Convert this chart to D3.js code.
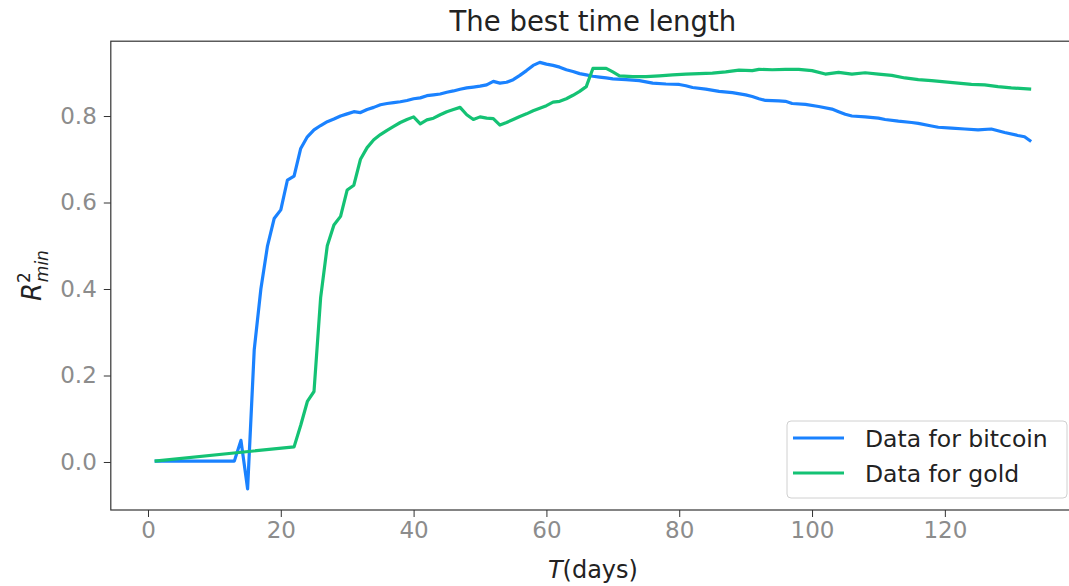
<!DOCTYPE html>
<html>
<head>
<meta charset="utf-8">
<script src="https://cdn.jsdelivr.net/npm/d3@7"></script>
<style>
  body { margin: 0; background: #fff; }
  svg { display: block; font-family: "DejaVu Sans", sans-serif; }
</style>
</head>
<body>
<svg id="chart"></svg>
<script>
// values
const btcDays = [1, 13, 14, 15, 16, 17, 18, 19, 20, 21, 22, 23, 24, 25, 26, 27, 28, 29, 30,
  31, 32, 33, 34, 35, 36, 37, 38, 39, 40, 41, 42, 43, 44, 45, 46, 47, 48, 49, 50,
  51, 52, 53, 54, 55, 56, 57, 58, 59, 60, 61, 62, 63, 64, 65, 66, 67, 68, 69, 70,
  72, 74, 75, 76, 78, 80, 81, 82, 84, 86, 88, 90, 91, 92, 93, 95, 96, 97, 99, 101,
  103, 104, 105, 106, 108, 110, 111, 113, 115, 116, 118, 119, 121, 123, 125, 127,
  129, 131, 132, 133];
const btcR2 = [0.002, 0.002, 0.05, -0.062, 0.26, 0.40, 0.50, 0.563, 0.583, 0.652, 0.661,
  0.725, 0.752, 0.768, 0.778, 0.787, 0.793, 0.80, 0.805, 0.81, 0.808, 0.815, 0.82,
  0.826, 0.829, 0.831, 0.833, 0.836, 0.84, 0.842, 0.847, 0.849, 0.851, 0.855, 0.858,
  0.862, 0.865, 0.867, 0.869, 0.872, 0.88, 0.876, 0.878, 0.884, 0.894, 0.905, 0.917,
  0.924, 0.92, 0.917, 0.913, 0.907, 0.903, 0.898, 0.895, 0.892, 0.89, 0.888, 0.886,
  0.884, 0.882, 0.879, 0.876, 0.874, 0.873, 0.87, 0.866, 0.862, 0.857, 0.854, 0.849,
  0.845, 0.84, 0.836, 0.835, 0.834, 0.829, 0.827, 0.822, 0.816, 0.81, 0.804, 0.80,
  0.798, 0.795, 0.792, 0.788, 0.785, 0.783, 0.777, 0.774, 0.772, 0.77, 0.768, 0.77,
  0.762, 0.755, 0.752, 0.741];

const goldDays = [1, 22, 23, 24, 25, 26, 27, 28, 29, 30, 31, 32, 33, 34, 35, 36, 37, 38,
  39, 40, 41, 42, 43, 44, 45, 46, 47, 48, 49, 50, 51, 52, 53, 54, 55, 56, 57, 58, 59,
  60, 61, 62, 63, 64, 65, 66, 67, 68, 69, 70, 71, 73, 75, 77, 79, 81, 83, 85, 87, 89,
  91, 92, 94, 96, 98, 100, 102, 104, 106, 108, 110, 112, 114, 116, 118, 120, 122, 124,
  126, 128, 130, 133];
const goldR2 = [0.002, 0.035, 0.085, 0.14, 0.163, 0.38, 0.50, 0.548, 0.568, 0.629, 0.64,
  0.70, 0.727, 0.745, 0.757, 0.767, 0.776, 0.785, 0.792, 0.798, 0.782, 0.791, 0.795,
  0.803, 0.81, 0.815, 0.82, 0.803, 0.792, 0.798, 0.795, 0.794, 0.779, 0.785, 0.792,
  0.799, 0.805, 0.812, 0.818, 0.824, 0.832, 0.834, 0.84, 0.848, 0.857, 0.868, 0.91,
  0.91, 0.91, 0.902, 0.893, 0.891, 0.891, 0.893, 0.895, 0.897, 0.898, 0.899, 0.902,
  0.906, 0.905, 0.908, 0.907, 0.908, 0.908, 0.905, 0.897, 0.901, 0.897, 0.90, 0.897,
  0.894, 0.888, 0.884, 0.882, 0.879, 0.876, 0.873, 0.872, 0.868, 0.865, 0.862];

const xTicks = [0, 20, 40, 60, 80, 100, 120];
const yTicks = [0.0, 0.2, 0.4, 0.6, 0.8];
const seriesNames = ["Data for bitcoin", "Data for gold"];
const seriesColors = ["#1a82ff", "#14c274"];

const width = 1069, height = 586;
const mLeft = 110.8, mRight = 1075, mTop = 41.2, mBottom = 510;

const svg = d3.select("#chart")
  .attr("width", width)
  .attr("height", height);

const x = d3.scaleLinear().domain([-5.6, 139.6]).range([mLeft, mRight]);
const y = d3.scaleLinear().domain([-0.111, 0.973]).range([mBottom, mTop]);

// x axis
const xAxis = svg.append("g")
  .attr("transform", `translate(0,${mBottom})`)
  .call(d3.axisBottom(x).tickValues(xTicks).tickFormat(d3.format("d")).tickSize(7).tickPadding(5));
xAxis.select(".domain").remove();
xAxis.selectAll(".tick line").attr("stroke", "#333").attr("stroke-width", 1);
xAxis.selectAll(".tick text")
  .attr("fill", "#8c8c8c")
  .style("font-size", "23px")
  .style("font-family", "DejaVu Sans");

// y axis
const yAxis = svg.append("g")
  .attr("transform", `translate(${mLeft},0)`)
  .call(d3.axisLeft(y).tickValues(yTicks).tickFormat(d3.format(".1f")).tickSize(7).tickPadding(7));
yAxis.select(".domain").remove();
yAxis.selectAll(".tick line").attr("stroke", "#333").attr("stroke-width", 1);
yAxis.selectAll(".tick text")
  .attr("fill", "#8c8c8c")
  .style("font-size", "23px")
  .style("font-family", "DejaVu Sans");

// lines
const line = d3.line().x(d => x(d[0])).y(d => y(d[1]));
const btc = btcDays.map((d, i) => [d, btcR2[i]]);
const gold = goldDays.map((d, i) => [d, goldR2[i]]);

svg.append("path").datum(btc)
  .attr("d", line)
  .attr("fill", "none")
  .attr("stroke", seriesColors[0])
  .attr("stroke-width", 3.2)
  .attr("stroke-linejoin", "round");

svg.append("path").datum(gold)
  .attr("d", line)
  .attr("fill", "none")
  .attr("stroke", seriesColors[1])
  .attr("stroke-width", 3.2)
  .attr("stroke-linejoin", "round");

// frame
svg.append("rect")
  .attr("x", mLeft).attr("y", mTop)
  .attr("width", mRight - mLeft).attr("height", mBottom - mTop)
  .attr("fill", "none")
  .attr("stroke", "#333")
  .attr("stroke-width", 1.2);

// title
svg.append("text")
  .attr("x", (mLeft + mRight) / 2)
  .attr("y", 31)
  .attr("text-anchor", "middle")
  .attr("fill", "#222")
  .style("font-size", "27.5px")
  .text("The best time length");

// x label
const xl = svg.append("text")
  .attr("x", (mLeft + mRight) / 2)
  .attr("y", 578)
  .attr("text-anchor", "middle")
  .attr("fill", "#222")
  .style("font-size", "24px");
xl.append("tspan").style("font-style", "italic").text("T");
xl.append("tspan").text("(days)");

// y label
const yl = svg.append("text")
  .attr("transform", `translate(41,${(mTop + mBottom) / 2}) rotate(-90)`)
  .attr("text-anchor", "middle")
  .attr("fill", "#222")
  .style("font-size", "26px")
  .style("font-style", "italic");
yl.append("tspan").text("R");
yl.append("tspan").attr("dy", -11).style("font-size", "17px").style("font-style", "normal").text("2");
yl.append("tspan").attr("dx", -10).attr("dy", 18).style("font-size", "17px").text("min");

// legend
const lg = svg.append("g");
lg.append("rect")
  .attr("x", 787).attr("y", 421)
  .attr("width", 280).attr("height", 77)
  .attr("rx", 4)
  .attr("fill", "#fff")
  .attr("fill-opacity", 0.8)
  .attr("stroke", "#d0d0d0")
  .attr("stroke-width", 1);

seriesNames.forEach((name, i) => {
  const ly = 438 + i * 35;
  lg.append("line")
    .attr("x1", 793).attr("x2", 844)
    .attr("y1", ly).attr("y2", ly)
    .attr("stroke", seriesColors[i])
    .attr("stroke-width", 3.2);
  lg.append("text")
    .attr("x", 865).attr("y", ly + 8.5)
    .attr("fill", "#222")
    .style("font-size", "23.5px")
    .text(name);
});
</script>
</body>
</html>
